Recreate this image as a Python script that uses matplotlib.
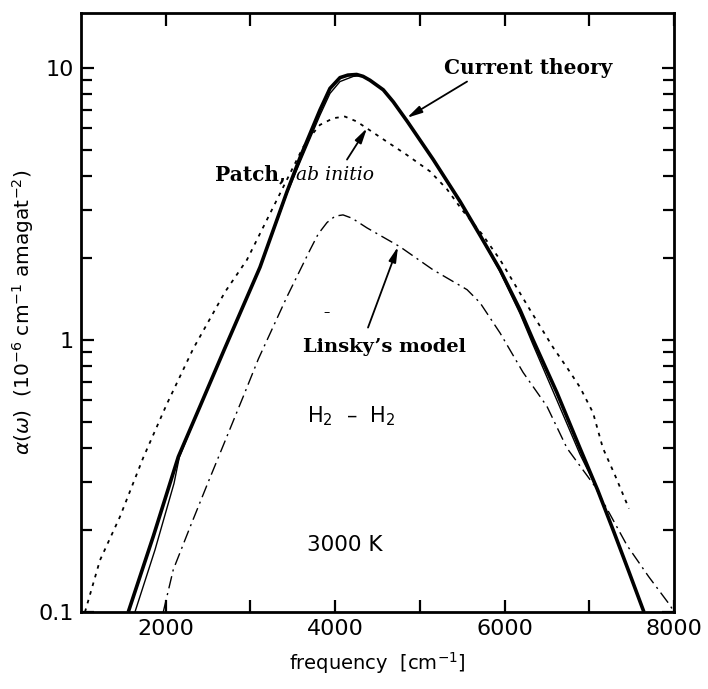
import matplotlib
matplotlib.use("Agg")
import matplotlib.pyplot as plt
from matplotlib.ticker import FixedLocator, NullFormatter, FixedFormatter

# ---------------- data ----------------
current_x = [1558, 1854, 2149, 2405, 2689, 3113, 3431, 3585, 3821, 3939, 4057, 4150,
             4254, 4330, 4411, 4568, 4686, 4852, 5158, 5474, 5722, 5947, 6182, 6336,
             6618, 6890, 7100, 7290, 7470, 7645]
current_y = [0.1, 0.19, 0.372, 0.57, 0.918, 1.85, 3.5, 4.67, 7.0, 8.4, 9.2, 9.4,
             9.45, 9.3, 9.0, 8.3, 7.5, 6.35, 4.6, 3.23, 2.39, 1.81, 1.29, 1.0,
             0.64, 0.40, 0.28, 0.197, 0.14, 0.1]

thin_x = [1637, 1873, 2098, 2160, 2405, 2689, 3113, 3431, 3585, 3821, 3939, 4057,
          4215, 4300, 4411, 4568, 4686, 4852, 5158, 5474, 5722, 5947, 6182, 6336,
          6618, 6890, 7100, 7290, 7470, 7645]
thin_y = [0.1, 0.169, 0.297, 0.37, 0.57, 0.918, 1.85, 3.45, 4.5, 6.7, 8.05, 8.9,
          9.3, 9.35, 9.0, 8.3, 7.5, 6.35, 4.6, 3.23, 2.39, 1.78, 1.25, 0.96,
          0.60, 0.38, 0.28, 0.197, 0.14, 0.1]

patch_x = [1047, 1224, 1460, 1736, 2012, 2326, 2700, 2959, 3349, 3621, 3703, 3821,
           3979, 4115, 4254, 4372, 4607, 4844, 5121, 5320, 5500, 5733, 5947, 6300,
           6571, 6750, 6890, 7044, 7161, 7300, 7468]
patch_y = [0.1, 0.155, 0.224, 0.37, 0.58, 0.93, 1.5, 1.97, 3.45, 5.1, 5.57, 6.17,
           6.53, 6.62, 6.35, 6.0, 5.36, 4.79, 4.16, 3.58, 3.0, 2.45, 1.97, 1.29,
           0.94, 0.78, 0.67, 0.54, 0.40, 0.32, 0.24]

linsky_x = [1971, 2089, 2287, 2482, 2680, 2916, 3093, 3431, 3703, 3800, 3904, 4000,
            4093, 4200, 4376, 4765, 5155, 5557, 5710, 5947, 6218, 6500, 6737, 7055,
            7444, 7700, 7952, 8000]
linsky_y = [0.1, 0.143, 0.205, 0.29, 0.41, 0.62, 0.85, 1.44, 2.14, 2.45, 2.7, 2.85,
            2.88, 2.8, 2.58, 2.2, 1.81, 1.53, 1.37, 1.06, 0.76, 0.57, 0.40, 0.293,
            0.176, 0.135, 0.106, 0.1]

x_ticks = [2000, 3000, 4000, 5000, 6000, 7000, 8000]
x_ticklabels = ["2000", "", "4000", "", "6000", "", "8000"]
y_major = [0.1, 1, 10]
y_major_labels = ["0.1", "1", "10"]

# ---------------- figure ----------------
fig = plt.figure(figsize=(7.08, 6.89), dpi=100)
ax = fig.add_axes([81 / 708, 77 / 689, 593 / 708, 599 / 689])

ax.plot(current_x, current_y, color="black", lw=2.6, solid_capstyle="butt",
        solid_joinstyle="round")
ax.plot(thin_x, thin_y, color="black", lw=1.0)
ax.plot(patch_x, patch_y, color="black", lw=1.3, linestyle=(0, (2.0, 3.0)))
ax.plot(linsky_x, linsky_y, color="black", lw=1.0, linestyle=(0, (9, 3.5, 1.5, 3.5)))

ax.set_yscale("log")
ax.set_xlim(1000, 8000)
ax.set_ylim(0.1, 15.9)

ax.xaxis.set_major_locator(FixedLocator(x_ticks))
ax.xaxis.set_major_formatter(FixedFormatter(x_ticklabels))
ax.yaxis.set_major_locator(FixedLocator(y_major))
ax.yaxis.set_major_formatter(FixedFormatter(y_major_labels))
minor = [m * d for d in (0.1, 1) for m in range(2, 10)]
ax.yaxis.set_minor_locator(FixedLocator(minor))
ax.yaxis.set_minor_formatter(NullFormatter())

ax.tick_params(axis="both", which="both", direction="in", top=True, right=True,
               width=1.6, labelsize=16, pad=5)
ax.tick_params(axis="both", which="major", length=9)
ax.tick_params(axis="y", which="minor", length=8)
for sp in ax.spines.values():
    sp.set_linewidth(2.0)

ax.set_xlabel(r"frequency  [cm$^{-1}$]", fontsize=14, labelpad=8)
ax.set_ylabel(r"$\alpha(\omega)$  (10$^{-6}$ cm$^{-1}$ amagat$^{-2}$)", fontsize=14.5,
              labelpad=2)

serif = "DejaVu Serif"
arrow = dict(arrowstyle="-|>,head_length=0.9,head_width=0.22", lw=1.3, color="black",
             shrinkA=0, shrinkB=0)

ax.text(6280, 10.0, "Current theory", fontsize=14.5, family=serif, weight="bold",
        ha="center", va="center")
ax.annotate("", xy=(4848, 6.55), xytext=(5557, 8.9), arrowprops=arrow)

ax.text(2582, 4.05, "Patch,", fontsize=14.5, family=serif, weight="bold",
        ha="left", va="center")
ax.text(3540, 4.05, "ab initio", fontsize=13.5, family=serif, style="italic",
        ha="left", va="center")
ax.annotate("", xy=(4376, 6.0), xytext=(4140, 4.6), arrowprops=arrow)

ax.text(3621, 0.94, "Linsky\u2019s model", fontsize=14, family=serif, weight="bold",
        ha="left", va="center")
ax.annotate("", xy=(4742, 2.2), xytext=(4388, 1.11), arrowprops=arrow)

ax.text(3904, 1.26, "\u2013", fontsize=9, ha="center", va="center")
ax.text(3668, 0.526, "H$_2$  \u2013  H$_2$", fontsize=15, ha="left", va="center")
ax.text(3668, 0.176, "3000 K", fontsize=15.5, ha="left", va="center")

fig.savefig("out.png", dpi=100)
